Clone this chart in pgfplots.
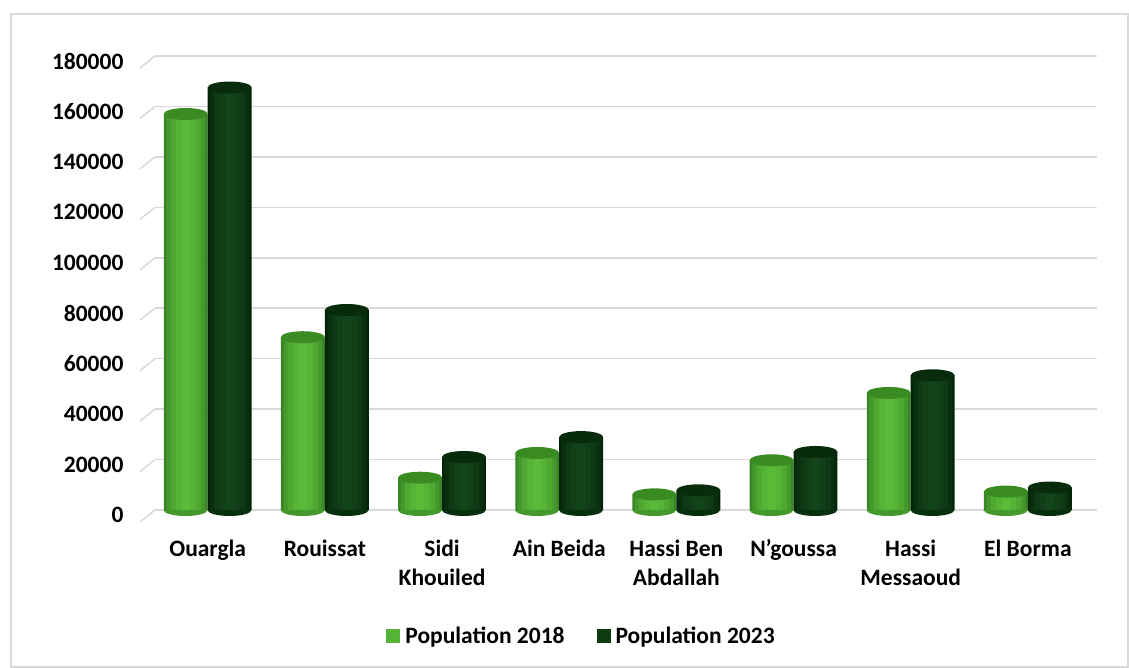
\documentclass[border=0pt]{standalone}
\usepackage{fontspec}
\setmainfont{Carlito}
\usepackage{pgfplots}
\usepackage{pgfplotstable}
\pgfplotsset{compat=1.18}
\usetikzlibrary{shapes.geometric}
\pgfplotstableread{
x  y
0  157000
1  68500
2  12800
3  22600
4  6200
5  19700
6  46400
7  7300
}\popA
\pgfplotstableread{
x  y
0  167500
1  79300
2  21000
3  28900
4  7800
5  23000
6  53400
7  8900
}\popB
\definecolor{gA1}{HTML}{3A8524}
\definecolor{gA2}{HTML}{45982B}
\definecolor{gA3}{HTML}{4EA831}
\definecolor{gA4}{HTML}{55B335}
\definecolor{gA5}{HTML}{5BBB39}
\definecolor{gAcap}{HTML}{3B8B23}
\definecolor{gB1}{HTML}{052507}
\definecolor{gB2}{HTML}{09300E}
\definecolor{gB3}{HTML}{0D3913}
\definecolor{gB4}{HTML}{103F18}
\definecolor{gB5}{HTML}{13451B}
\definecolor{gBcap}{HTML}{072B0B}
\definecolor{gridc}{HTML}{D9D9D9}
\pgfkeys{/utils/bottomshift/.code={%
  \begingroup
  \pgfkeys{/pgf/fpu=true,/pgf/fpu/output format=fixed}%
  \pgfmathparse{-#1*454/180000}%
  \xdef\mybottomshift{\pgfmathresult}%
  \endgroup}}
\tikzset{halfbottom/.style={shape=rectangle, fill=none, draw=none,
  append after command={\pgfextra{%
    \fill[#1] (\tikzlastnode.west) arc[start angle=180, end angle=360, x radius=22pt, y radius=6pt] -- cycle;}}}}
\begin{document}
\begin{tikzpicture}
\useasboundingbox[fill=white] (0,0) rectangle (1129pt,668pt);
\draw[gridc, line width=1.5pt] (11pt,1pt) rectangle (1128.2pt,654pt);
\begin{axis}[
  at={(155pt,158pt)}, anchor=south west,
  scale only axis, width=942pt, height=454pt,
  ybar=0pt,
  xmin=-0.45, xmax=7.59, ymin=0, ymax=180000,
  clip=false,
  xtick={0,...,7},
  xticklabels={Ouargla,Rouissat,Sidi\\Khouiled,Ain Beida,Hassi Ben\\Abdallah,N'goussa,Hassi\\Messaoud,El Borma},
  ytick={0,20000,...,180000},
  scaled y ticks=false,
  ymajorgrids, grid style={gridc, line width=1.5pt},
  axis line style={draw=none}, tick style={draw=none},
  /pgf/number format/assume math mode=true,
  /pgf/number format/1000 sep={},
  /pgf/number format/fixed,
  yticklabel style={font=\fontsize{23.5}{28}\selectfont\bfseries, xshift=-28pt, yshift=-5pt},
  xticklabel style={font=\fontsize{23.5}{29}\selectfont\bfseries, align=center, yshift=-22pt},
  every node near coord/.append style={ellipse, inner sep=0pt, minimum width=44pt, minimum height=12pt, anchor=center},
  legend style={at={(0.4528,-0.2775)}, anchor=center, draw=none, fill=none,
    font=\fontsize{23.5}{28}\selectfont\bfseries, legend columns=2,
    /tikz/every odd column/.append style={column sep=3pt},
    /tikz/every even column/.append style={column sep=30pt}},
  legend cell align=left,
]
\pgfplotsinvokeforeach{0,20000,40000,60000,80000,100000,120000,140000,160000,180000}{
  \draw[gridc, line width=1.5pt] (axis cs:-0.45,#1) -- ++(-15pt,-12pt);
}
% rounded bottoms
\addplot[forget plot, draw=none, fill=none, bar width=0.001, bar shift=-0.1875,
  visualization depends on={rawy \as \ry},
  nodes near coords={}, every node near coord/.append style={
    /utils/bottomshift=\ry, yshift=\mybottomshift pt, halfbottom=gA2}] table {\popA};
\addplot[forget plot, draw=none, fill=none, bar width=0.001, bar shift=0.1875,
  visualization depends on={rawy \as \ry},
  nodes near coords={}, every node near coord/.append style={
    /utils/bottomshift=\ry, yshift=\mybottomshift pt, halfbottom=gB2}] table {\popB};
% Population 2018 (layered for a cylinder look)
\addplot[draw=none, fill=gA1, bar width=0.375, bar shift=-0.1875,
  legend image code/.code={\fill[gA4] (0pt,-7pt) rectangle (14pt,7pt);}] table {\popA};
\addlegendentry{Population 2018}
\addplot[forget plot, draw=none, fill=gA2, bar width=0.33, bar shift=-0.1875] table {\popA};
\addplot[forget plot, draw=none, fill=gA3, bar width=0.26, bar shift=-0.1875] table {\popA};
\addplot[forget plot, draw=none, fill=gA4, bar width=0.17, bar shift=-0.1875] table {\popA};
\addplot[forget plot, draw=none, fill=gA5, bar width=0.07, bar shift=-0.1875,
  nodes near coords={}, every node near coord/.append style={fill=gAcap}] table {\popA};
% Population 2023
\addplot[draw=none, fill=gB1, bar width=0.375, bar shift=0.1875,
  legend image code/.code={\fill[gB3] (0pt,-7pt) rectangle (14pt,7pt);}] table {\popB};
\addlegendentry{Population 2023}
\addplot[forget plot, draw=none, fill=gB2, bar width=0.33, bar shift=0.1875] table {\popB};
\addplot[forget plot, draw=none, fill=gB3, bar width=0.26, bar shift=0.1875] table {\popB};
\addplot[forget plot, draw=none, fill=gB4, bar width=0.17, bar shift=0.1875] table {\popB};
\addplot[forget plot, draw=none, fill=gB5, bar width=0.07, bar shift=0.1875,
  nodes near coords={}, every node near coord/.append style={fill=gBcap}] table {\popB};
\end{axis}
\end{tikzpicture}
\end{document}
